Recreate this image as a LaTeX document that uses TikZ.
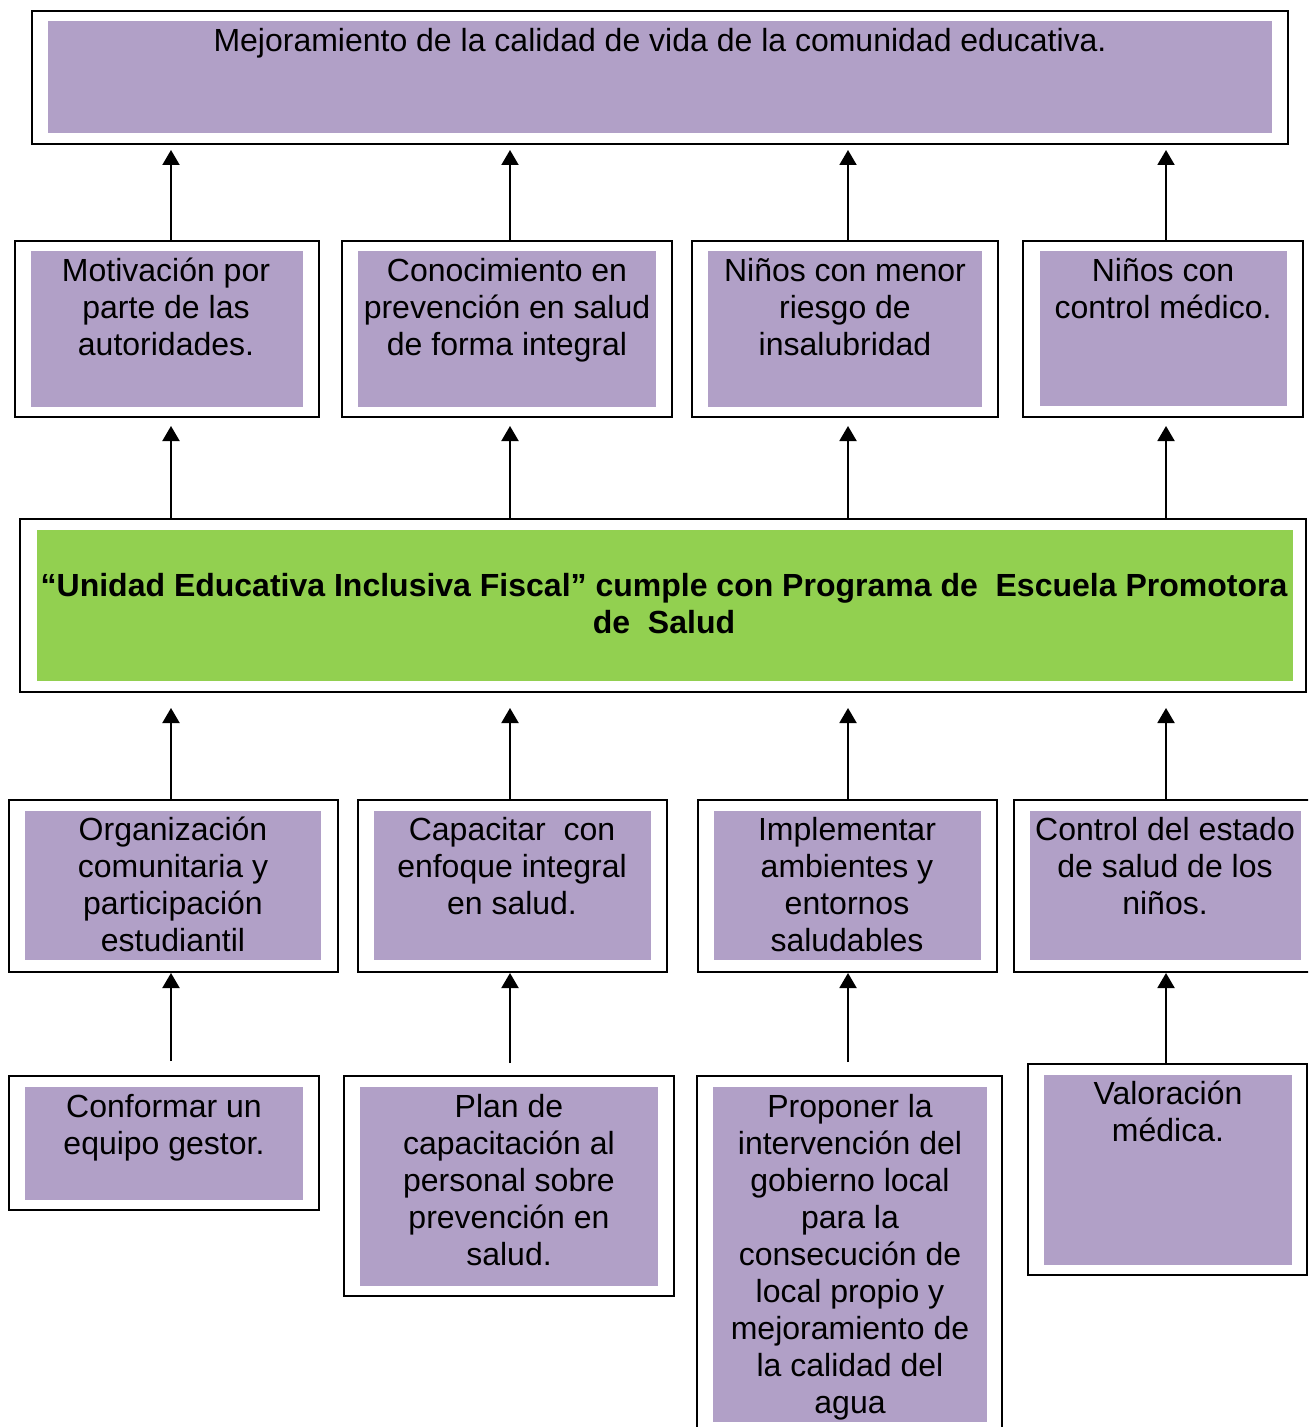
\documentclass[tikz,border=0pt]{standalone}
\usepackage{fontspec}
\setmainfont{Liberation Sans}
\usetikzlibrary{fit,arrows.meta}
\definecolor{lila}{HTML}{B1A0C7}
\definecolor{verde}{HTML}{92D050}
\tikzset{
 obox/.style={draw=black, line width=1pt, fill=white, inner sep=0pt},
 ibox/.style={fill=lila, inner sep=0pt},
 gbox/.style={fill=verde, inner sep=0pt},
 txt/.style={anchor=north, align=center, inner sep=0pt, font=\fontsize{16pt}{18.5pt}\selectfont},
 arr/.style={line width=1pt, -{Triangle[length=7.5pt,width=8.5pt]}},
}
\newcommand\obx[3]{\node[obox, fit={(#2) (#3)}] (#1) {};}
\newcommand\ibx[3]{\node[ibox, fit={(#2) (#3)}] (#1) {};}
\begin{document}
\begin{tikzpicture}[x=0.5pt,y=-0.5pt]
\useasboundingbox (0,0) rectangle (1308,1427);
\clip (0,0) rectangle (1308,1427);
\coordinate (c1) at (171,0);
\coordinate (c2) at (510,0);
\coordinate (c3) at (848,0);
\coordinate (c4) at (1166,0);
% top
\obx{top}{32,11}{1288,144}
\ibx{itop}{48,21}{1272,133}
\node[txt] (ttop) at (660,25) {\strut Mejoramiento de la calidad de vida de la comunidad educativa.};
% row 2
\obx{o21}{15,241}{319,417}   \ibx{i21}{31,251}{303,407}
\obx{o22}{342,241}{672,417}  \ibx{i22}{358,251}{656,407}
\obx{o23}{692,241}{998,417}  \ibx{i23}{708,251}{982,407}
\obx{o24}{1023,241}{1303,417} \ibx{i24}{1040,251}{1287,406}
\node[txt] (t21) at (166,255) {\strut Motivación por\\parte de las\\autoridades.};
\node[txt] (t22) at (507,255) {\strut Conocimiento en\\prevención en salud\\de forma integral};
\node[txt] (t23) at (845,255) {\strut Niños con menor\\riesgo de\\insalubridad};
\node[txt] (t24) at (1163,255) {\strut Niños con\\control médico.};
% center
\obx{cen}{20,519}{1306,692}
\node[gbox, fit={(37,530) (1293,681)}] (icen) {};
\node[txt, font=\fontsize{16pt}{18.5pt}\selectfont\bfseries] (tcen) at (664,570) {\strut “Unidad Educativa Inclusiva Fiscal” cumple con Programa de~ Escuela Promotora\\de~ Salud};
% row 3
\obx{o31}{9,800}{338,972}    \ibx{i31}{25,811}{321,960}
\obx{o32}{358,800}{667,972}  \ibx{i32}{374,811}{651,960}
\obx{o33}{698,800}{997,972}  \ibx{i33}{714,811}{981,960}
\obx{o34}{1014,800}{1312,972} \ibx{i34}{1030,811}{1301,960}
\node[txt] (t31) at (173,814) {\strut Organización\\comunitaria y\\participación\\estudiantil};
\node[txt] (t32) at (512,814) {\strut Capacitar~ con\\enfoque integral\\en salud.};
\node[txt] (t33) at (847,814) {\strut Implementar\\ambientes y\\entornos\\saludables};
\node[txt] (t34) at (1165,814) {\strut Control del estado\\de salud de los\\niños.};
% row 4
\obx{o41}{9,1076}{319,1210}   \ibx{i41}{25,1087}{303,1200}
\obx{o42}{344,1076}{674,1296} \ibx{i42}{360,1087}{658,1286}
\obx{o43}{697,1076}{1002,1440} \ibx{i43}{713,1087}{987,1422}
\obx{o44}{1028,1064}{1307,1275} \ibx{i44}{1044,1075}{1292,1265}
\node[txt] (t41) at (164,1091) {\strut Conformar un\\equipo gestor.};
\node[txt] (t42) at (509,1091) {\strut Plan de\\capacitación al\\personal sobre\\prevención en\\salud.};
\node[txt] (t43) at (850,1091) {\strut Proponer la\\intervención del\\gobierno local\\para la\\consecución de\\local propio y\\mejoramiento de\\la calidad del\\agua};
\node[txt] (t44) at (1168,1078) {\strut Valoración\\médica.};
% arrows row2 -> top
\draw[arr, shorten >=2.5pt] (o21.north -| c1) -- (top.south -| c1);
\draw[arr, shorten >=2.5pt] (o22.north -| c2) -- (top.south -| c2);
\draw[arr, shorten >=2.5pt] (o23.north -| c3) -- (top.south -| c3);
\draw[arr, shorten >=2.5pt] (o24.north -| c4) -- (top.south -| c4);
% center -> row2
\draw[arr, shorten >=4pt] (cen.north -| c1) -- (o21.south -| c1);
\draw[arr, shorten >=4pt] (cen.north -| c2) -- (o22.south -| c2);
\draw[arr, shorten >=4pt] (cen.north -| c3) -- (o23.south -| c3);
\draw[arr, shorten >=4pt] (cen.north -| c4) -- (o24.south -| c4);
% row3 -> center
\draw[arr, shorten >=7.5pt] (o31.north -| c1) -- (cen.south -| c1);
\draw[arr, shorten >=7.5pt] (o32.north -| c2) -- (cen.south -| c2);
\draw[arr, shorten >=7.5pt] (o33.north -| c3) -- (cen.south -| c3);
\draw[arr, shorten >=7.5pt] (o34.north -| c4) -- (cen.south -| c4);
% row4 -> row3
\coordinate (s1) at (171,1061);
\coordinate (s2) at (510,1063);
\coordinate (s3) at (848,1062);
\draw[arr] (s1) -- (o31.south -| c1);
\draw[arr] (s2) -- (o32.south -| c2);
\draw[arr] (s3) -- (o33.south -| c3);
\draw[arr] (o44.north -| c4) -- (o34.south -| c4);
\end{tikzpicture}
\end{document}
